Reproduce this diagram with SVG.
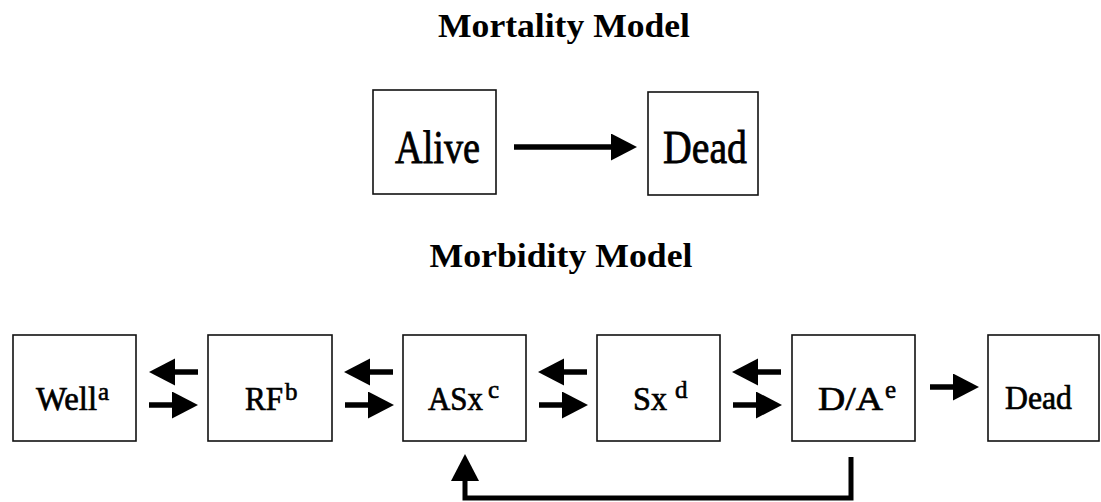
<svg xmlns="http://www.w3.org/2000/svg" width="1101" height="502" viewBox="0 0 1101 502">
<defs>
<marker id="ah" markerUnits="userSpaceOnUse" markerWidth="27" markerHeight="28" refX="0" refY="13.5" orient="auto">
<path d="M0,0 L26,13.5 L0,27 Z" fill="#000"/>
</marker>
<marker id="ahv" markerUnits="userSpaceOnUse" markerWidth="28" markerHeight="30" refX="0" refY="14" orient="auto">
<path d="M0,0 L27,14 L0,28 Z" fill="#000"/>
</marker>
<style>
.box{fill:#fff;stroke:#111;stroke-width:1.6}
.title{font-family:"Liberation Serif",serif;font-weight:bold;font-size:34px;fill:#000}
.big{font-family:"Liberation Serif",serif;font-size:46px;fill:#000;stroke:#000;stroke-width:0.8}
.lbl{font-family:"Liberation Serif",serif;font-size:34px;fill:#000;stroke:#000;stroke-width:0.7}
.sup{font-family:"Liberation Serif",serif;font-size:25px;fill:#000;stroke:#000;stroke-width:0.6}
.arr{stroke:#000;stroke-width:5.5;fill:none;marker-end:url(#ah)}
.fb{stroke:#000;stroke-width:5;fill:none;marker-end:url(#ahv)}
</style>
</defs>
<rect width="1101" height="502" fill="#fff"/>
<text class="title" x="564" y="37" text-anchor="middle" textLength="252" lengthAdjust="spacingAndGlyphs">Mortality Model</text>
<text class="title" x="561" y="267" text-anchor="middle" textLength="263" lengthAdjust="spacingAndGlyphs">Morbidity Model</text>
<g id="alive"><rect class="box" x="373" y="90" width="123" height="104"/><text class="big" x="395" y="163" textLength="85" lengthAdjust="spacingAndGlyphs">Alive</text></g>
<g id="dead1"><rect class="box" x="648" y="92" width="110" height="103"/><text class="big" x="663" y="163" textLength="84" lengthAdjust="spacingAndGlyphs">Dead</text></g>
<g id="well"><rect class="box" x="13" y="335" width="123" height="106"/><text class="lbl" x="36" y="410" textLength="61" lengthAdjust="spacingAndGlyphs">Well</text><text class="sup" x="98" y="400">a</text></g>
<g id="rf"><rect class="box" x="208" y="335" width="124" height="106"/><text class="lbl" x="245" y="410" textLength="38" lengthAdjust="spacingAndGlyphs">RF</text><text class="sup" x="285" y="400">b</text></g>
<g id="asx"><rect class="box" x="403" y="335" width="123" height="106"/><text class="lbl" x="428" y="410" textLength="55" lengthAdjust="spacingAndGlyphs">ASx</text><text class="sup" x="488" y="398">c</text></g>
<g id="sx"><rect class="box" x="597" y="335" width="123" height="106"/><text class="lbl" x="633" y="410" textLength="34" lengthAdjust="spacingAndGlyphs">Sx</text><text class="sup" x="675" y="398">d</text></g>
<g id="da"><rect class="box" x="792" y="335" width="123" height="106"/><text class="lbl" x="818" y="410" textLength="65" lengthAdjust="spacingAndGlyphs">D/A</text><text class="sup" x="885" y="398">e</text></g>
<g id="dead2"><rect class="box" x="988" y="335" width="111" height="106"/><text class="lbl" x="1005" y="409" textLength="67" lengthAdjust="spacingAndGlyphs">Dead</text></g>
<g id="connectors">
<line class="arr" x1="514" y1="147" x2="611" y2="147"/>
<line class="arr" x1="198" y1="372" x2="175" y2="372"/>
<line class="arr" x1="149" y1="405" x2="172" y2="405"/>
<line class="arr" x1="393" y1="372" x2="370" y2="372"/>
<line class="arr" x1="345" y1="405" x2="368" y2="405"/>
<line class="arr" x1="587" y1="372" x2="564" y2="372"/>
<line class="arr" x1="539" y1="405" x2="562" y2="405"/>
<line class="arr" x1="781" y1="372" x2="758" y2="372"/>
<line class="arr" x1="733" y1="405" x2="756" y2="405"/>
<line class="arr" x1="930" y1="387" x2="953" y2="387"/>
<polyline class="fb" points="851,457 851,498 465,498 465,481"/>
</g>
</svg>
